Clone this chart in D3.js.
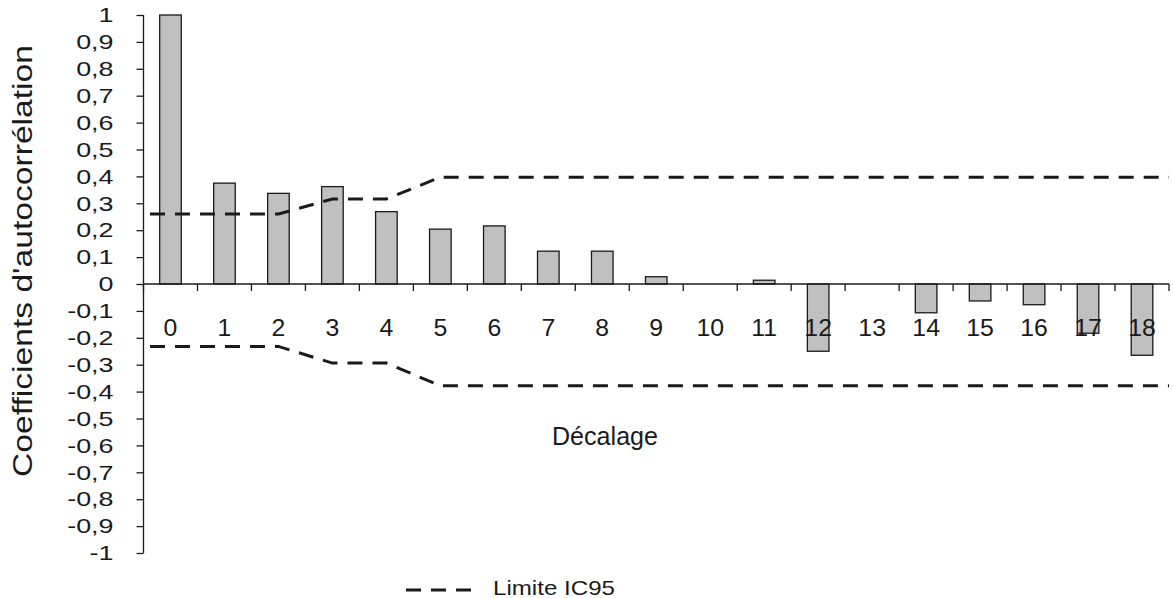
<!DOCTYPE html>
<html>
<head>
<meta charset="utf-8">
<script src="https://cdn.jsdelivr.net/npm/d3@7/dist/d3.min.js"></script>
<style>
    body { margin: 0; background: #fff; }
    text { font-family: "Liberation Sans", Arial, sans-serif; fill: #1a1a1a; }
    .axis path, .axis line { stroke: #1a1a1a; stroke-width: 1.3; }
</style>
</head>
<body>
<div id="acf-chart"></div>
<script>
// Lags (x categories)
var lags = [0, 1, 2, 3, 4, 5, 6, 7, 8, 9, 10, 11, 12, 13, 14, 15, 16, 17, 18];

// Autocorrelation coefficients
var acfValues = [1, 0.375, 0.337, 0.362, 0.269, 0.204, 0.216, 0.122, 0.122, 0.027,
    0, 0.014, -0.25, 0, -0.107, -0.063, -0.077, -0.183, -0.265];

// 95% confidence limits
var upperLimit = [0.26, 0.26, 0.26, 0.316, 0.316, 0.397, 0.397, 0.397, 0.397, 0.397,
    0.397, 0.397, 0.397, 0.397, 0.397, 0.397, 0.397, 0.397, 0.397];
var lowerLimit = [-0.232, -0.232, -0.232, -0.294, -0.294, -0.378, -0.378, -0.378, -0.378, -0.378,
    -0.378, -0.378, -0.378, -0.378, -0.378, -0.378, -0.378, -0.378, -0.378];

// Y tick values
var yTickValues = [-1, -0.9, -0.8, -0.7, -0.6, -0.5, -0.4, -0.3, -0.2, -0.1,
    0, 0.1, 0.2, 0.3, 0.4, 0.5, 0.6, 0.7, 0.8, 0.9, 1];

AcfChart = function(_parentElement) {
    this.parentElement = _parentElement;
    this.initVisualization();
}

AcfChart.prototype.initVisualization = function() {
    var vis = this;

    vis.width = 1173;
    vis.height = 598;

    vis.svg = d3.select('#' + vis.parentElement)
        .append('svg')
        .attr('width', vis.width)
        .attr('height', vis.height);

    // Scales
    vis.x = d3.scaleBand()
        .domain(lags)
        .range([143.5, 1169])
        .padding(0);

    vis.y = d3.scaleLinear()
        .domain([-1, 1])
        .range([553, 15]);

    var bw = vis.x.bandwidth();
    var barW = bw * 0.4;

    // Y axis
    vis.yAxis = d3.axisLeft(vis.y)
        .tickValues(yTickValues)
        .tickSize(7)
        .tickPadding(23)
        .tickFormat(function(d) {
            return String(Math.round(d * 10) / 10).replace('.', ',');
        });

    vis.svg.append('g')
        .attr('class', 'y-axis axis')
        .attr('transform', 'translate(' + vis.x.range()[0] + ',0)')
        .call(vis.yAxis)
        .call(function(g) { g.select('.domain').attr('d', 'M0,' + vis.y(1) + 'V' + vis.y(-1)); })
        .selectAll('text')
        .style('font-size', '21px')
        // the labels in the original are drawn wider than normal
        .attr('x', 0)
        .attr('transform', 'translate(-30,0) scale(1.28,1)');

    // Bars
    vis.svg.selectAll('.bar')
        .data(lags)
        .enter()
        .append('rect')
        .attr('class', 'bar')
        .attr('x', function(d) { return vis.x(d) + (bw - barW) / 2; })
        .attr('width', barW)
        .attr('y', function(d, i) { return vis.y(Math.max(0, acfValues[i])); })
        .attr('height', function(d, i) { return Math.abs(vis.y(acfValues[i]) - vis.y(0)); })
        .attr('fill', '#c0c0c0')
        .attr('stroke', '#1a1a1a')
        .attr('stroke-width', 1.3);

    // X axis at zero, ticks between categories
    var xAxisG = vis.svg.append('g')
        .attr('class', 'x-axis axis')
        .attr('transform', 'translate(0,' + vis.y(0) + ')');

    xAxisG.append('path')
        .attr('d', 'M' + vis.x.range()[0] + ',0H' + vis.x.range()[1])
        .attr('fill', 'none');

    xAxisG.selectAll('.xtick')
        .data(lags.concat([lags.length]))
        .enter()
        .append('line')
        .attr('class', 'xtick')
        .attr('x1', function(d, i) { return vis.x.range()[0] + i * bw; })
        .attr('x2', function(d, i) { return vis.x.range()[0] + i * bw; })
        .attr('y1', 0)
        .attr('y2', 7);

    // Category labels
    vis.svg.selectAll('.xlabel')
        .data(lags)
        .enter()
        .append('text')
        .attr('class', 'xlabel')
        .attr('transform', function(d) { return 'translate(' + (vis.x(d) + bw / 2) + ',336) scale(1.08,1)'; })
        .attr('text-anchor', 'middle')
        .style('font-size', '23px')
        .text(function(d) { return d; });

    // Confidence limit lines
    vis.line = d3.line()
        .x(function(d) { return d.x; })
        .y(function(d) { return vis.y(d.v); });

    function limitPoints(values) {
        var pts = lags.map(function(l, i) {
            return { x: vis.x(l) + bw / 2, v: values[i] };
        });
        pts.unshift({ x: vis.x(lags[0]) + bw * 0.12, v: values[0] });
        pts.push({ x: vis.x.range()[1], v: values[values.length - 1] });
        return pts;
    }

    [upperLimit, lowerLimit].forEach(function(vals) {
        vis.svg.append('path')
            .datum(limitPoints(vals))
            .attr('fill', 'none')
            .attr('stroke', '#1a1a1a')
            .attr('stroke-width', 3)
            .attr('stroke-dasharray', '15,10')
            .attr('d', vis.line);
    });

    // Axis titles
    vis.svg.append('text')
        .attr('transform', 'translate(32,261) rotate(-90)')
        .attr('text-anchor', 'middle')
        .attr('textLength', 432)
        .attr('lengthAdjust', 'spacingAndGlyphs')
        .style('font-size', '27px')
        .text("Coefficients d'autocorrélation");

    vis.svg.append('text')
        .attr('x', 605)
        .attr('y', 445)
        .attr('text-anchor', 'middle')
        .attr('textLength', 106)
        .attr('lengthAdjust', 'spacingAndGlyphs')
        .style('font-size', '25px')
        .text('Décalage');

    // Legend
    vis.svg.append('line')
        .attr('x1', 406)
        .attr('x2', 471)
        .attr('y1', 590)
        .attr('y2', 590)
        .attr('stroke', '#1a1a1a')
        .attr('stroke-width', 3)
        .attr('stroke-dasharray', '15,10');

    vis.svg.append('text')
        .attr('x', 493)
        .attr('y', 595)
        .attr('textLength', 122)
        .attr('lengthAdjust', 'spacingAndGlyphs')
        .style('font-size', '21px')
        .text('Limite IC95');
}

var acfChart = new AcfChart('acf-chart');
</script>
</body>
</html>
